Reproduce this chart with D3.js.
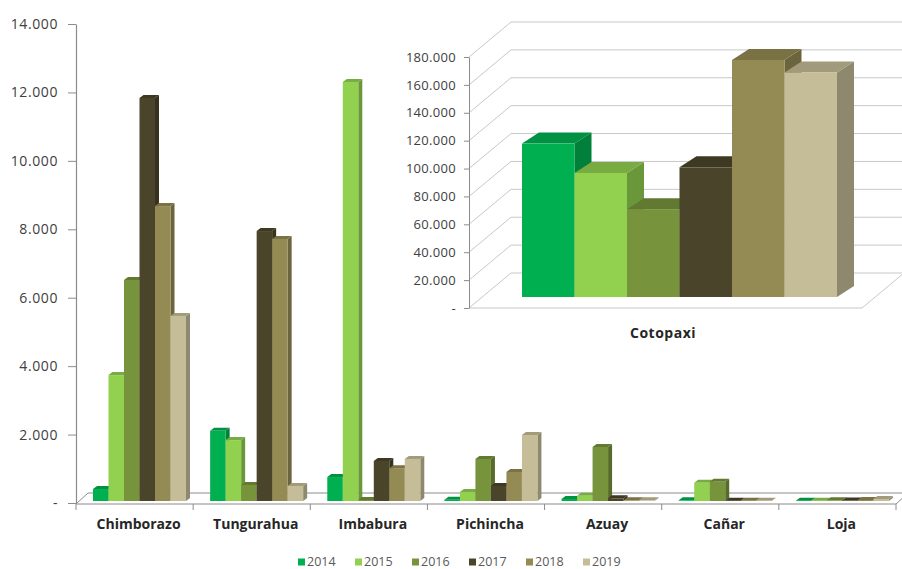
<!DOCTYPE html>
<html>
<head>
<meta charset="utf-8">
<script src="https://cdn.jsdelivr.net/npm/d3@7"></script>
<style>
  body { margin: 0; background: #fff; }
  svg { display: block; }
  text { font-family: "Open Sans", "DejaVu Sans", sans-serif; }
</style>
</head>
<body>
<svg id="chart" width="902" height="569"></svg>
<script>
// Provinces on the main chart and the years of each series
const provinces = ["Chimborazo", "Tungurahua", "Imbabura", "Pichincha", "Azuay", "Cañar", "Loja"];
const years = ["2014", "2015", "2016", "2017", "2018", "2019"];

// Values per year, one entry per province
const s2014 = [350, 2050, 700, 40, 60, 20, 10];
const s2015 = [3680, 1780, 12250, 260, 150, 530, 10];
const s2016 = [6460, 470, 30, 1230, 1580, 560, 20];
const s2017 = [11780, 7890, 1170, 440, 80, 10, 15];
const s2018 = [8620, 7660, 960, 850, 20, 10, 30];
const s2019 = [5410, 440, 1230, 1930, 20, 10, 60];
const series = [s2014, s2015, s2016, s2017, s2018, s2019];

// Cotopaxi, shown on its own scale
const cotopaxiLabel = "Cotopaxi";
const cotopaxi = [110000, 89000, 63000, 93000, 170000, 161000];

const mainTicks = [0, 2000, 4000, 6000, 8000, 10000, 12000, 14000];
const insetTicks = [0, 20000, 40000, 60000, 80000, 100000, 120000, 140000, 160000, 180000];

const colors = ["#00b050", "#92d050", "#77933c", "#4a452a", "#948a54", "#c4bd97"];

const fmt = v => v === 0 ? "-" : d3.format(",")(v).replace(/,/g, ".");

const svg = d3.select("#chart");
const axisColor = "#8c8c8c";
const gridColor = "#c8c8c8";
const labelColor = "#404040";

// Draws one 3D column: front face, right side face, top face
function column(g, x, w, yTop, yBot, dx, dy, color) {
  const c = d3.color(color);
  g.append("polygon")
    .attr("points", [[x + w, yTop], [x + w + dx, yTop - dy], [x + w + dx, yBot - dy], [x + w, yBot]].join(" "))
    .attr("fill", c.darker(0.9));
  g.append("polygon")
    .attr("points", [[x, yTop], [x + dx, yTop - dy], [x + w + dx, yTop - dy], [x + w, yTop]].join(" "))
    .attr("fill", c.darker(0.55));
  g.append("rect")
    .attr("x", x).attr("y", yTop)
    .attr("width", w).attr("height", Math.max(0, yBot - yTop))
    .attr("fill", c);
}

// ---------- main chart ----------
const left = 76, right = 896, axisBottom = 504;
const y = d3.scaleLinear().domain([0, 14000]).range([503, 24]);
const x0 = d3.scaleBand().domain(provinces).range([left, right]).padding(0);
const x1 = d3.scaleBand().domain(years).range([17, 110]).padding(0);
const mdx = 4, mdy = 3, floorDx = 12, floorDy = 11;
const barBase = 501;

const main = svg.append("g");

// floor outline
main.append("line")
  .attr("x1", left + floorDx).attr("y1", axisBottom - floorDy)
  .attr("x2", 902).attr("y2", axisBottom - floorDy)
  .attr("stroke", axisColor).attr("stroke-width", 1.2);
main.append("line")
  .attr("x1", left).attr("y1", axisBottom)
  .attr("x2", left + floorDx).attr("y2", axisBottom - floorDy)
  .attr("stroke", axisColor).attr("stroke-width", 1);
main.append("line")
  .attr("x1", right).attr("y1", axisBottom)
  .attr("x2", right + floorDx).attr("y2", axisBottom - floorDy)
  .attr("stroke", axisColor).attr("stroke-width", 1);

// columns
const bars = main.append("g");
provinces.forEach((p, i) => {
  years.forEach((yr, j) => {
    const v = series[j][i];
    const bx = x0(p) + x1(yr);
    const top = barBase - (y(0) - y(v));
    column(bars, bx, x1.bandwidth(), top, barBase, mdx, mdy, colors[j]);
  });
});

// front edge of the floor with tick marks at category boundaries
main.append("line")
  .attr("x1", left).attr("y1", axisBottom).attr("x2", right).attr("y2", axisBottom)
  .attr("stroke", axisColor).attr("stroke-width", 1.2);
const bounds = provinces.map(p => x0(p)).concat([right]);
main.selectAll(".xtick").data(bounds).join("line")
  .attr("x1", d => d).attr("x2", d => d)
  .attr("y1", axisBottom).attr("y2", axisBottom + 6)
  .attr("stroke", axisColor);

// category labels
const xAxis = d3.axisBottom(x0).tickSize(0).tickPadding(0);
const xg = main.append("g").attr("transform", `translate(0,${axisBottom + 15})`).call(xAxis);
xg.select(".domain").remove();
xg.selectAll("text")
  .attr("dy", "0.71em")
  .attr("font-size", 14).attr("font-weight", 700).attr("fill", "#262626")
  .attr("transform", "translate(4,0)");

// value axis
const yAxis = d3.axisLeft(y).tickValues(mainTicks).tickFormat(fmt).tickSize(8).tickSizeOuter(0).tickPadding(10);
const yg = main.append("g").attr("transform", `translate(${left},0)`).call(yAxis);
yg.select(".domain").attr("stroke", axisColor).attr("stroke-width", 1.2);
yg.selectAll(".tick line").attr("stroke", axisColor);
yg.selectAll("text").attr("font-size", 14).attr("letter-spacing", 0.6).attr("fill", labelColor);

// ---------- Cotopaxi inset ----------
const ins = svg.append("g");
const iLeft = 469, iRight = 862, iDx = 42, iDy = 35;
const iy = d3.scaleLinear().domain([0, 180000]).range([308, 57]);
const iyBar = d3.scaleLinear().domain([0, 180000]).range([297, 46]);
const ix = d3.scaleBand().domain(years).range([522, 837]).padding(0);

// back wall gridlines and side wall diagonals
insetTicks.forEach(t => {
  const yf = iy(t);
  ins.append("line")
    .attr("x1", iLeft).attr("y1", yf).attr("x2", iLeft + iDx).attr("y2", yf - iDy)
    .attr("stroke", gridColor);
  ins.append("line")
    .attr("x1", iLeft + iDx).attr("y1", yf - iDy).attr("x2", 902).attr("y2", yf - iDy)
    .attr("stroke", gridColor);
});
// floor front edge and right edge
ins.append("line")
  .attr("x1", iLeft).attr("y1", iy(0)).attr("x2", iRight).attr("y2", iy(0))
  .attr("stroke", gridColor).attr("stroke-width", 1.2);
ins.append("line")
  .attr("x1", iRight).attr("y1", iy(0)).attr("x2", iRight + iDx).attr("y2", iy(0) - iDy)
  .attr("stroke", gridColor);

const ibars = ins.append("g");
years.forEach((yr, j) => {
  column(ibars, ix(yr), ix.bandwidth(), iyBar(cotopaxi[j]), iyBar(0), 17, 11, colors[j]);
});

const iAxis = d3.axisLeft(iy).tickValues(insetTicks).tickFormat(fmt).tickSize(5).tickSizeOuter(0).tickPadding(8);
const ig = ins.append("g").attr("transform", `translate(${iLeft},0)`).call(iAxis);
ig.select(".domain").attr("stroke", axisColor);
ig.selectAll(".tick line").attr("stroke", axisColor);
ig.selectAll("text").attr("font-size", 13).attr("letter-spacing", 0.3).attr("fill", labelColor);

ins.append("text")
  .attr("x", 663).attr("y", 338)
  .attr("text-anchor", "middle")
  .attr("font-size", 14).attr("font-weight", 700).attr("letter-spacing", 0.5).attr("fill", "#262626")
  .text(cotopaxiLabel);

// ---------- legend ----------
const legendX = d3.scalePoint().domain(years).range([298, 583]);
const lg = svg.append("g").attr("transform", "translate(0,562)");
years.forEach((yr, j) => {
  const gx = legendX(yr);
  lg.append("rect").attr("x", gx).attr("y", -3.5).attr("width", 7).attr("height", 7).attr("fill", colors[j]);
  lg.append("text").attr("x", gx + 9).attr("y", 0).attr("dy", "0.35em")
    .attr("font-family", "DejaVu Sans, sans-serif")
    .attr("font-size", 12.5).attr("fill", "#595959").text(yr);
});
</script>
</body>
</html>
